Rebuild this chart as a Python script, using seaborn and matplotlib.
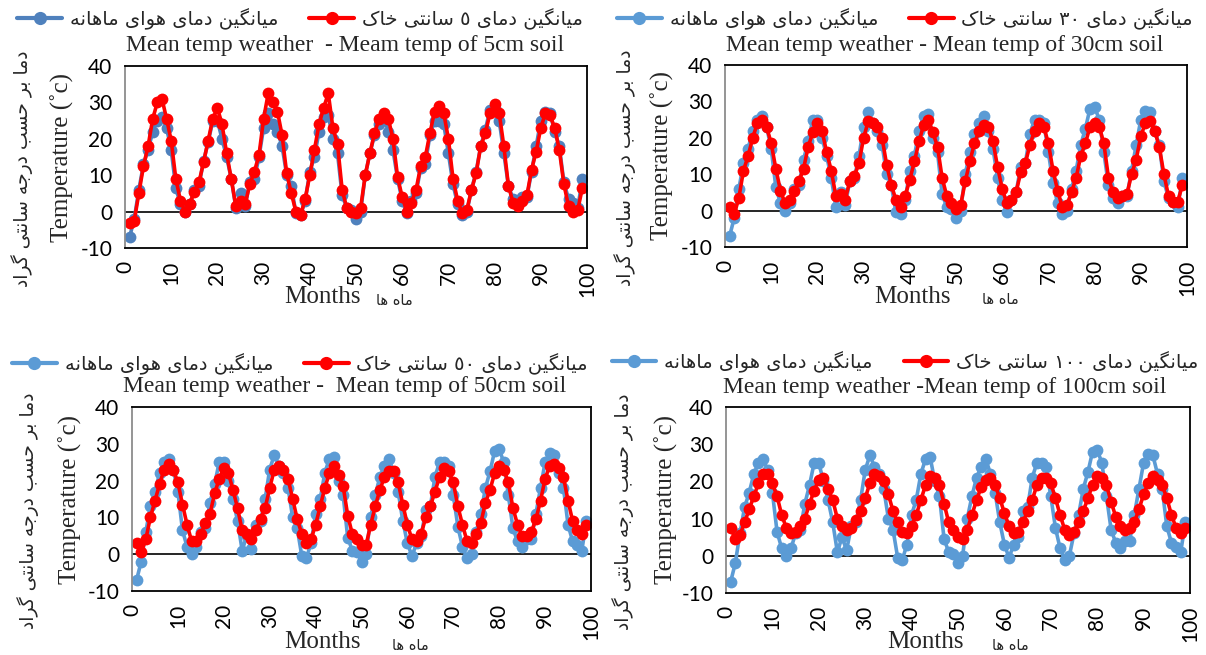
import numpy as np
import pandas as pd
import seaborn as sns
import matplotlib
matplotlib.use("Agg")
import matplotlib.pyplot as plt
from matplotlib.lines import Line2D

# ---------------- data ----------------
months = list(range(1, 100))

air_temp = [
    -7, -2, 6, 13, 17, 22, 25, 26, 23, 17, 6.5, 2,
    0, 2, 6, 7, 14, 19, 25, 25, 20, 15, 9, 1,
    5, 1.5, 8, 9, 15, 23, 27, 24, 22, 18, 10, 7,
    -0.5, -1, 3, 11, 15, 22, 26, 26.5, 20, 16, 4.5, 1,
    0.5, -2, 0, 10, 16, 21, 24, 26, 22, 17, 9, 3,
    -0.5, 3, 5, 12, 13, 21, 25, 25, 24, 16, 7.5, 2,
    -1, 0, 6, 11, 18, 22.5, 28, 28.5, 25, 16, 7, 3.5,
    2, 4, 4, 11, 18, 25, 27.5, 27, 22, 18, 8, 3.5,
    2.5, 1, 9,
]

soil_5cm = [
    -3, -2.5, 5, 12.5, 18, 25.5, 30, 31, 25.5, 19.5, 9, 3,
    0, 2, 5.5, 8, 13.5, 19.5, 25.5, 28.5, 24, 16, 9, 1.5,
    3, 2, 7.5, 11, 15.5, 25.5, 32.5, 30, 27.5, 21, 10.5, 5,
    0, -1, 3.5, 10, 17, 24, 28.5, 32.5, 23, 18.5, 6, 1,
    0, -0.5, 1, 10, 16, 21.5, 25.5, 27, 25.5, 20, 9.5, 4,
    0, 2.5, 6, 12.5, 15, 21.5, 27.5, 29, 27, 20, 9, 3,
    -0.5, 0.5, 6, 10.5, 18, 21.5, 27, 29.5, 27, 18, 7, 2.5,
    1.5, 3, 4.5, 11.5, 16.5, 23, 27, 26.5, 23, 17, 7.5, 1.5,
    0, 0.5, 6.5,
]

soil_30cm = [
    1, -1, 3.5, 11, 15, 20, 24, 25, 23, 18.5, 11.5, 5.5,
    2, 3, 5.5, 8, 11.5, 17.5, 21.5, 24, 22, 16, 11, 4,
    4.5, 3, 8, 9.5, 13, 20, 24.5, 24, 23, 20, 12.5, 7,
    3, 1, 4, 8.5, 13.5, 19, 23.5, 25, 21.5, 17.5, 9, 4,
    2, 0.5, 1.5, 8, 13.5, 18.5, 22, 23.5, 23, 19, 12, 6,
    2, 3, 5, 10.5, 13, 18, 22, 24, 23, 18.5, 11, 5.5,
    1, 1.5, 5, 9, 15, 18.5, 23, 24, 23, 18.5, 9, 5,
    3.5, 4, 4.5, 10, 14, 20.5, 24, 24.5, 22, 17.5, 10, 4,
    2.5, 2.5, 7,
]

soil_50cm = [
    3, 0.5, 4, 10, 14.5, 19, 23, 24.5, 23, 19.5, 13.5, 8,
    3.5, 3.5, 5.5, 8.5, 11, 16.5, 20.5, 23.5, 22, 17.5, 12.5, 6.5,
    5.5, 4, 6.5, 9.5, 12.5, 18, 23, 24, 23, 20.5, 15, 9.5,
    5.5, 3, 4, 8, 13, 18, 22, 24, 21.5, 18.5, 10.5, 5.5,
    4, 2.5, 2.5, 8, 13, 17.5, 21, 22.5, 22.5, 19.5, 13.5, 8,
    4, 3.5, 5.5, 10, 13, 17, 21, 23.5, 22.5, 19.5, 13, 8,
    3.5, 3, 5.5, 8.5, 14, 17.5, 22, 24, 23, 19.5, 12.5, 8,
    5, 5, 6, 9.5, 14.5, 20.5, 24, 24.5, 23.5, 21, 14.5, 9,
    6.5, 5.5, 8,
]

soil_100cm = [
    7.5, 4.5, 5.5, 9, 12.5, 16, 19.5, 22, 22, 19.5, 16, 11,
    7.5, 6, 6.5, 8, 10, 14, 17.5, 20.5, 21, 18, 15, 10,
    8, 7, 7.5, 9.5, 12, 15.5, 19.5, 22, 21.5, 20, 16.5, 12,
    9, 6.5, 6, 8, 11, 15, 19, 21.5, 21, 19, 14, 9,
    7, 5, 4.5, 7, 11, 15, 18.5, 20.5, 21, 19, 15.5, 11.5,
    8, 6, 6.5, 9, 12, 15, 19, 21, 21, 19.5, 15.5, 11,
    7, 5.5, 6.5, 9, 12, 15.5, 19, 21.5, 21, 19, 14.5, 10.5,
    8, 7, 7.5, 9, 12.5, 16.5, 19.5, 21.5, 20.5, 19, 15.5, 11,
    7.5, 6, 7.5,
]

depth_digits = ["٥", "٣٠", "٥٠", "١٠٠"]
titles = [
    "Mean temp weather  - Meam temp of 5cm soil",
    "Mean temp weather - Mean temp of 30cm soil",
    "Mean temp weather -  Mean temp of 50cm soil",
    "Mean temp weather -Mean temp of 100cm soil",
]
air_label_fa = "میانگین دمای هوای ماهانه"
soil_label_fa = "میانگین دمای {} سانتی خاک"
ylabel_fa = "دما بر حسب درجه سانتی گراد"
xlabel_fa = "ماه ها"
y_ticks = [-10, 0, 10, 20, 30, 40]
x_ticks = [0, 10, 20, 30, 40, 50, 60, 70, 80, 90, 100]

# ---------------- minimal Persian shaping ----------------
FORMS = {
    "ا": ("\uFE8D", "\uFE8E"),
    "د": ("\uFEA9", "\uFEAA"),
    "ر": ("\uFEAD", "\uFEAE"),
    "و": ("\uFEED", "\uFEEE"),
    "ب": ("\uFE8F", "\uFE90", "\uFE91", "\uFE92"),
    "ت": ("\uFE95", "\uFE96", "\uFE97", "\uFE98"),
    "ج": ("\uFE9D", "\uFE9E", "\uFE9F", "\uFEA0"),
    "ح": ("\uFEA1", "\uFEA2", "\uFEA3", "\uFEA4"),
    "خ": ("\uFEA5", "\uFEA6", "\uFEA7", "\uFEA8"),
    "س": ("\uFEB1", "\uFEB2", "\uFEB3", "\uFEB4"),
    "م": ("\uFEE1", "\uFEE2", "\uFEE3", "\uFEE4"),
    "ن": ("\uFEE5", "\uFEE6", "\uFEE7", "\uFEE8"),
    "ه": ("\uFEE9", "\uFEEA", "\uFEEB", "\uFEEC"),
    "ی": ("\uFBFC", "\uFBFD", "\uFBFE", "\uFBFF"),
    "ک": ("\uFB8E", "\uFB8F", "\uFB90", "\uFB91"),
    "گ": ("\uFB92", "\uFB93", "\uFB94", "\uFB95"),
}
DIGITS = set("٠١٢٣٤٥٦٧٨٩0123456789")


def fa(text):
    out = []
    n = len(text)
    for i, c in enumerate(text):
        if c not in FORMS:
            out.append(c)
            continue
        f = FORMS[c]
        prev = text[i - 1] if i > 0 else None
        nxt = text[i + 1] if i + 1 < n else None
        jp = prev in FORMS and len(FORMS[prev]) == 4
        jn = len(f) == 4 and nxt in FORMS
        if jp and jn:
            out.append(f[3])
        elif jp:
            out.append(f[1])
        elif jn:
            out.append(f[2])
        else:
            out.append(f[0])
    runs = []
    for ch in out:
        isd = ch in DIGITS
        if runs and runs[-1][0] == isd:
            runs[-1][1].append(ch)
        else:
            runs.append([isd, [ch]])
    res = ""
    for isd, chars in reversed(runs):
        res += "".join(chars) if isd else "".join(reversed(chars))
    return res


# ---------------- plotting ----------------
sns.set_theme(style="white")
plt.rcParams["font.family"] = ["Lato", "DejaVu Sans"]

W, H = 1206, 655
fig = plt.figure(figsize=(W / 100, H / 100), dpi=100)
fig.patch.set_facecolor("white")

soils = [soil_5cm, soil_30cm, soil_50cm, soil_100cm]
blues = ["#4F81BD", "#5B9BD5", "#5B9BD5", "#5B9BD5"]

# axes boxes in pixels: left, right, top, bottom
boxes = [(125, 587, 66, 248), (725, 1187, 65, 247),
         (132, 591, 407, 591), (726, 1190, 407, 593)]
legend_pos = [(300, 19), (905, 19), (300, 364), (905, 362)]
title_pos = [(345, 45), (945, 45), (345, 386), (945, 388)]
fa_ylab_x = [22, 625, 28, 623]
fa_ylab_dy = [12, 12, 12, 12]
en_ylab_x = [62, 662, 70, 666]
months_pos = [(322, 297), (912, 297), (322, 642), (925, 642)]
fa_x_pos = [(394, 301), (1000, 300), (410, 645), (1010, 645)]


def fx(px):
    return px / W


def fy(py):
    return 1 - py / H


for k in range(4):
    l, r, t, b = boxes[k]
    ax = fig.add_axes([fx(l), fy(b), (r - l) / W, (b - t) / H])
    df = pd.DataFrame({"month": months, "air": air_temp, "soil": soils[k]})
    sns.lineplot(data=df, x="month", y="air", ax=ax, color=blues[k],
                 marker="o", markersize=8.5, markeredgewidth=0,
                 linewidth=2.6, legend=False)
    sns.lineplot(data=df, x="month", y="soil", ax=ax, color="#FF0000",
                 marker="o", markersize=8.5, markeredgewidth=0,
                 linewidth=2.6, legend=False)
    ax.axhline(0, color="black", linewidth=1.2, zorder=1)
    ax.set_xlim(0, 100)
    ax.set_ylim(-10, 40)
    ax.set_xticks(x_ticks)
    ax.set_yticks(y_ticks)
    ax.set_xticklabels([str(v) for v in x_ticks], rotation=90, fontsize=15)
    ax.set_yticklabels([str(v) for v in y_ticks], fontsize=15)
    ax.tick_params(axis="x", length=0, pad=9, colors="black")
    ax.tick_params(axis="y", length=0, pad=9, colors="black")
    ax.set_xlabel("")
    ax.set_ylabel("")
    for s in ["top", "right", "bottom"]:
        ax.spines[s].set_color("black")
        ax.spines[s].set_linewidth(1.3)
    ax.spines["left"].set_color("#8c8c8c")
    ax.spines["left"].set_linewidth(1.3)

    handles = [
        Line2D([], [], color=blues[k], marker="o", markersize=9.5,
               markeredgewidth=0, linewidth=3),
        Line2D([], [], color="#FF0000", marker="o", markersize=9.5,
               markeredgewidth=0, linewidth=3),
    ]
    labels = [fa(air_label_fa), fa(soil_label_fa.format(depth_digits[k]))]
    lx, ly = legend_pos[k]
    fig.legend(handles, labels, loc="center", bbox_to_anchor=(fx(lx), fy(ly)),
               ncol=2, frameon=False, handlelength=2.3, columnspacing=1.6,
               handletextpad=0.4, borderpad=0.1,
               prop={"family": "DejaVu Sans", "size": 14})

    tx, ty = title_pos[k]
    fig.text(fx(tx), fy(ty), titles[k], ha="center", va="center",
             family="Liberation Serif", fontsize=17)
    fig.text(fx(fa_ylab_x[k]), fy((t + b) / 2 + fa_ylab_dy[k]), fa(ylabel_fa),
             rotation=90, ha="center", va="center", family="DejaVu Sans",
             fontsize=13.5)
    fig.text(fx(en_ylab_x[k]), (fy(t) + fy(b)) / 2, "Temperature (˚c)",
             rotation=90, ha="center", va="center",
             family="Liberation Serif", fontsize=18)
    mx, my = months_pos[k]
    fig.text(fx(mx), fy(my), "Months", ha="center", va="center",
             family="Liberation Serif", fontsize=18)
    px_, py_ = fa_x_pos[k]
    fig.text(fx(px_), fy(py_), fa(xlabel_fa), ha="center", va="center",
             family="DejaVu Sans", fontsize=10.5)

fig.savefig("out.png", dpi=100, facecolor="white")
